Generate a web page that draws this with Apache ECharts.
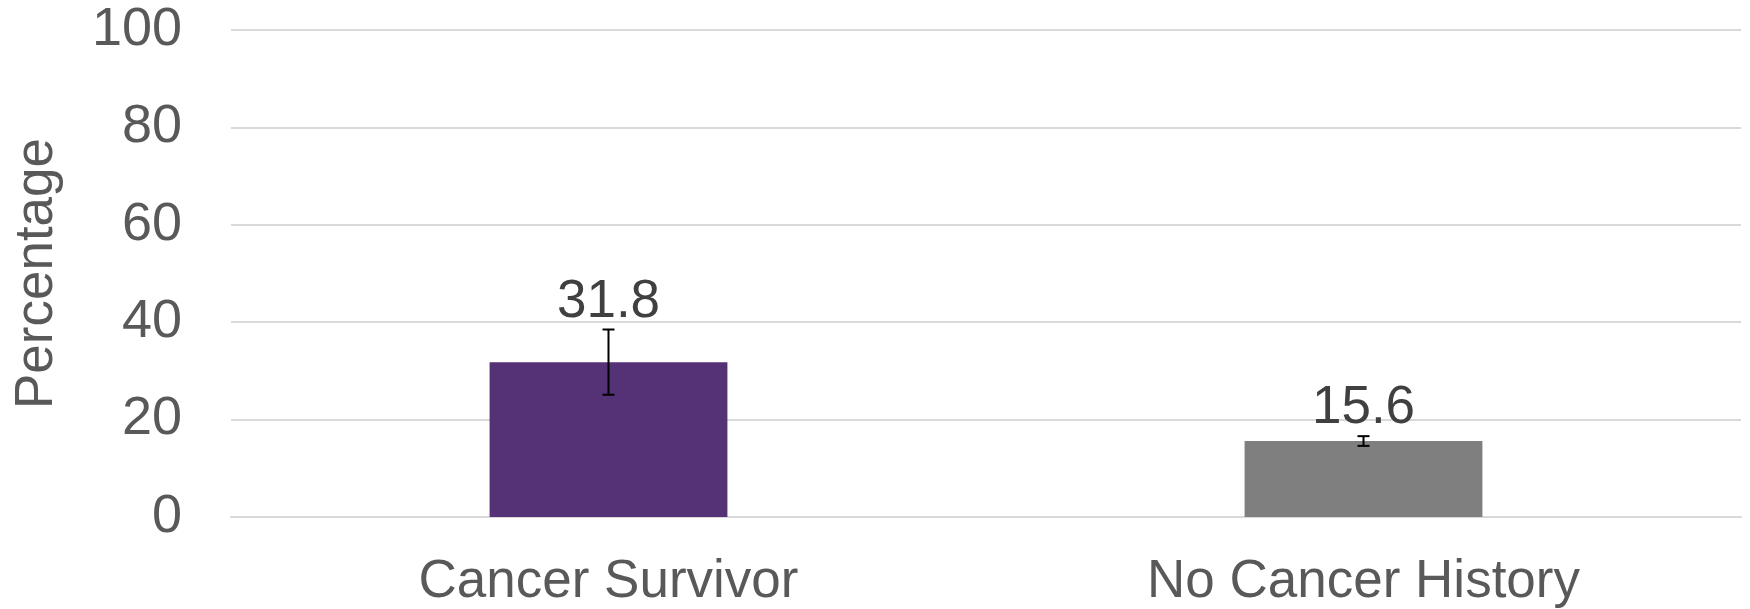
<!DOCTYPE html>
<html>
<head>
<meta charset="utf-8">
<script src="https://cdn.jsdelivr.net/npm/echarts@6/dist/echarts.min.js"></script>
<style>
  html, body { margin: 0; padding: 0; background: #fff; }
  #chart { width: 1750px; height: 609px; }
</style>
</head>
<body>
<div id="chart"></div>
<script>
const categories = ['Cancer Survivor', 'No Cancer History']
const values = [31.8, 15.6]
const errLow = [25.1, 14.6]
const errHigh = [38.5, 16.6]
const barColors = ['#553176', '#7f7f7f']
const yTicks = [0, 20, 40, 60, 80, 100]

const FONT = 'Liberation Sans, Arial, sans-serif'

const chart = echarts.init(document.getElementById('chart'))

// error bar + value label drawn on top of the bars
function renderErr(params, api) {
  const i = api.value(0)
  const hi = api.coord([i, api.value(2)])
  const lo = api.coord([i, api.value(1)])
  const x = hi[0]
  const cap = 6
  return {
    type: 'group',
    children: [
      { type: 'line', shape: { x1: x, y1: hi[1], x2: x, y2: lo[1] }, style: { stroke: '#000', lineWidth: 2 } },
      { type: 'line', shape: { x1: x - cap, y1: hi[1], x2: x + cap, y2: hi[1] }, style: { stroke: '#000', lineWidth: 2 } },
      { type: 'line', shape: { x1: x - cap, y1: lo[1], x2: x + cap, y2: lo[1] }, style: { stroke: '#000', lineWidth: 2 } },
      {
        type: 'text',
        style: {
          text: values[i].toFixed(1),
          x: x,
          y: hi[1] - 1,
          align: 'center',
          verticalAlign: 'bottom',
          fill: '#404040',
          font: '53px ' + FONT,
        },
      },
    ],
  }
}

chart.setOption({
  animation: false,
  grid: { left: 231, right: 9, top: 30, bottom: 92 },
  xAxis: {
    type: 'category',
    data: categories,
    axisLine: { show: true, lineStyle: { color: '#d9d9d9', width: 2 } },
    axisTick: { show: false },
    axisLabel: { color: '#595959', fontSize: 53, fontFamily: FONT, margin: 39 },
  },
  yAxis: {
    type: 'value',
    min: yTicks[0],
    max: yTicks[yTicks.length - 1],
    interval: 20,
    name: 'Percentage',
    nameLocation: 'middle',
    nameGap: 167,
    nameTextStyle: { color: '#595959', fontSize: 53, fontFamily: FONT },
    axisLine: { show: false },
    axisTick: { show: false },
    axisLabel: { color: '#595959', fontSize: 54, fontFamily: FONT, margin: 49 },
    splitLine: { lineStyle: { color: '#d9d9d9', width: 2 } },
  },
  series: [
    {
      type: 'bar',
      data: values.map((v, i) => ({ value: v, itemStyle: { color: barColors[i] } })),
      barWidth: '31.5%',
    },
    {
      type: 'custom',
      renderItem: renderErr,
      data: categories.map((c, i) => [i, errLow[i], errHigh[i]]),
      z: 10,
    },
  ],
})
</script>
</body>
</html>
